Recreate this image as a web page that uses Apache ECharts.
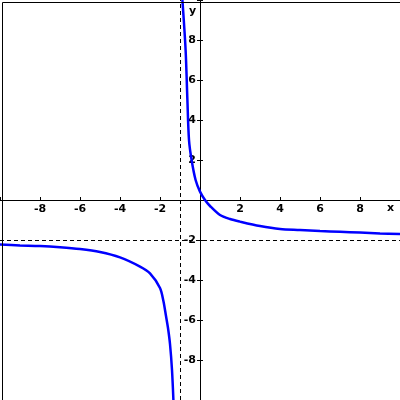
<!DOCTYPE html>
<html><head><meta charset="utf-8">
<script src="https://cdn.jsdelivr.net/npm/echarts@6/dist/echarts.min.js"></script>
<style>html,body{margin:0;padding:0;background:#fff}#c{width:400px;height:400px}</style>
</head><body><div id="c"></div>
<script>
// left branch points [x, y]
var leftX = [-10, -9, -8, -7, -6, -5, -4, -3, -2.5, -2, -1.83, -1.7, -1.6, -1.5, -1.4, -1.33];
var leftY = [-2.23, -2.27, -2.3, -2.36, -2.45, -2.6, -2.87, -3.33, -3.67, -4.4, -5.05, -5.8, -6.4, -7.2, -8.5, -10];
// right branch points
var rightX = [-0.88, -0.72, -0.63, -0.55, -0.42, -0.22, 0, 0.25, 0.5, 1, 1.5, 2, 3, 4, 5, 6, 7, 8, 9, 10];
var rightY = [10, 7.5, 5, 3, 2, 1, 0.42, 0, -0.3, -0.75, -0.95, -1.08, -1.3, -1.45, -1.5, -1.55, -1.59, -1.63, -1.67, -1.7];
var vAsym = -1, hAsym = -2;
var tickLabels = ['-8', '-6', '-4', '-2', '2', '4', '6', '8'];
var tickValues = [-8, -6, -4, -2, 2, 4, 6, 8];

function lbl(v) { var i = tickValues.indexOf(v); return i >= 0 ? tickLabels[i] : ''; }
function pts(xs, ys) { return xs.map(function (x, i) { return [x, ys[i]]; }); }
var font = { color: '#000', fontWeight: 'bold', fontSize: 11, fontFamily: 'DejaVu Sans' };

var chart = echarts.init(document.getElementById('c'), null, { renderer: 'canvas' });
function axis(extra) {
  return Object.assign({
    type: 'value', min: -10, max: 10, interval: 2,
    offset: -200,
    splitLine: { show: false },
    axisLine: { onZero: false, lineStyle: { color: '#000', width: 1 } },
    axisTick: { length: 3, lineStyle: { color: '#000' } },
    axisLabel: Object.assign({ formatter: lbl, margin: 4 }, font)
  }, extra);
}
chart.setOption({
  animation: false,
  backgroundColor: '#fff',
  grid: { left: 0, right: 0, top: 0, bottom: 0, containLabel: false, outerBoundsMode: 'none' },
  xAxis: [
    axis({ position: 'bottom', axisTick: { length: 3, inside: true, lineStyle: { color: '#000' } } })
  ],
  yAxis: [
    axis({ position: 'left' }),
    axis({ position: 'left', axisTick: { length: 3, inside: true, lineStyle: { color: '#000' } }, axisLabel: { show: false } })
  ],
  graphic: [
    { type: 'rect', left: 0, top: 0, shape: { width: 399, height: 399 }, style: { fill: 'none', stroke: '#000', lineWidth: 1 }, z: 100 },
    { type: 'text', left: 387, top: 203, style: { text: 'x', fill: '#000', font: 'bold 11px "DejaVu Sans"' } },
    { type: 'text', left: 189, top: 6, style: { text: 'y', fill: '#000', font: 'bold 11px "DejaVu Sans"' } }
  ],
  series: [
    {
      type: 'line', data: pts(leftX, leftY), smooth: 0.3, showSymbol: false, clip: true,
      lineStyle: { color: '#0000ff', width: 2.5 },
      markLine: {
        silent: true, symbol: 'none', label: { show: false },
        lineStyle: { color: '#000', type: [4, 3], width: 1 },
        data: [{ xAxis: vAsym }, { yAxis: hAsym }]
      }
    },
    {
      type: 'line', data: pts(rightX, rightY), smooth: 0.3, showSymbol: false, clip: true,
      lineStyle: { color: '#0000ff', width: 2.5 }
    }
  ]
});
</script></body></html>
